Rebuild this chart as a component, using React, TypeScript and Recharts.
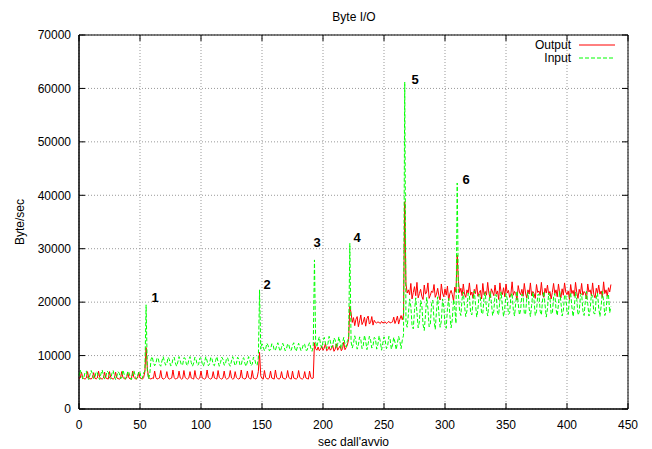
import { LineChart, Line, XAxis, YAxis, CartesianGrid, ReferenceArea } from 'recharts';

// one sample per second, starting at t = 0
const output = [
  5700, 5800, 6900, 5900, 5700, 5600, 5800, 7000, 5800, 5700,
  5600, 5900, 6800, 5800, 5600, 5800, 7100, 5900, 5700, 5600,
  5800, 6900, 5800, 5700, 5600, 7000, 5900, 5700, 5600, 5800,
  6900, 5800, 5700, 5600, 5700, 7000, 5900, 5700, 5600, 5800,
  6800, 5800, 5600, 5700, 7100, 5900, 5700, 5600, 5800, 6900,
  5800, 5700, 5600, 5900, 7000, 11500, 7600, 5900, 5700, 5600,
  5800, 5700, 7100, 5900, 5600, 5700, 5800, 7200, 5800, 5600,
  5700, 5900, 7000, 5800, 5600, 5700, 5800, 7300, 5900, 5600,
  5700, 5800, 7100, 5800, 5600, 5700, 7200, 5900, 5700, 5600,
  5800, 7000, 5800, 5700, 5600, 7200, 5900, 5700, 5600, 5800,
  7100, 5800, 5700, 5600, 5800, 7300, 5900, 5700, 5600, 5800,
  7000, 5800, 5700, 5600, 7200, 5900, 5700, 5600, 5800, 7100,
  5800, 5600, 5700, 5900, 7200, 5800, 5600, 5700, 7000, 5900,
  5700, 5600, 5800, 7300, 5800, 5700, 5600, 5800, 7100, 5900,
  5700, 5600, 7200, 5800, 5700, 5600, 5900, 7000, 10600, 6200,
  5700, 5600, 7200, 5900, 5700, 5600, 5800, 7100, 5800, 5700,
  5600, 7300, 5900, 5700, 5600, 5800, 7000, 5800, 5700, 5600,
  5800, 7200, 5900, 5700, 5600, 7100, 5800, 5700, 5600, 5800,
  7200, 5900, 5700, 5600, 5800, 7000, 5800, 5700, 5600, 7100,
  5900, 5700, 5800, 12400, 11300, 11000, 11600, 10900, 11200, 11800,
  11000, 11400, 12300, 10900, 11100, 11700, 11000, 11300, 11900, 10800,
  11200, 12200, 11000, 11400, 11800, 10900, 11300, 12500, 11100, 11500,
  12000, 13000, 19200, 18000, 16200, 17100, 15600, 16800, 17300, 15400,
  16500, 17600, 15800, 16300, 17200, 15500, 16900, 17400, 15900, 16200,
  17300, 15700, 16600, 16200, 16100, 16300, 16200, 16000, 16400, 16100,
  16200, 16300, 16000, 16200, 16400, 16100, 16200, 16300, 17200, 16000,
  16600, 17400, 15900, 16800, 17500, 16700, 17600, 38800, 23400, 21700,
  22300, 21400, 23500, 20600, 21800, 22900, 21200, 23700, 20800, 21600,
  22400, 21100, 20500, 23200, 21500, 21900, 23600, 20700, 21300, 22100,
  21800, 23300, 20900, 21500, 22600, 21200, 20400, 23400, 21700, 21000,
  22500, 21300, 23000, 20300, 21600, 22200, 21400, 20200, 22800, 21900,
  28800, 23900, 21800, 22600, 21200, 23400, 21500, 20900, 22300, 21700,
  23600, 21300, 21900, 20700, 22400, 21600, 23300, 21100, 21800, 22200,
  20600, 23500, 21400, 22000, 21300, 23700, 21600, 20800, 22500, 21900,
  21200, 23200, 21500, 22100, 20500, 23600, 21800, 21400, 22700, 21000,
  23400, 21700, 22200, 20900, 21500, 23800, 21300, 22000, 21600, 20400,
  23100, 21900, 21400, 22400, 21100, 23500, 21700, 20800, 22300, 21500,
  23600, 21200, 22000, 21600, 20700, 23300, 21800, 22100, 21300, 23700,
  21500, 20900, 22600, 21700, 23200, 21400, 22000, 20600, 21800, 23500,
  21600, 22300, 21000, 23400, 21700, 20800, 22500, 21300, 23600, 21900,
  21400, 22100, 20500, 23300, 21600, 22200, 21100, 23700, 21800, 20700,
  22400, 21500, 23500, 21300, 22000, 21700, 20600, 23400, 21900, 22300,
  21200, 23600, 21400, 20800, 22600, 21700, 23200, 21500, 22100, 20900,
  23800, 21600, 22300, 21100, 22700, 21900, 23300,
];

const input = [
  6200, 7300, 6500, 5600, 5900, 6900, 7100, 6000, 5500, 6400,
  7200, 6600, 5700, 5800, 7000, 6800, 5900, 5500, 6600, 7300,
  6300, 5600, 6000, 7100, 6900, 5800, 5600, 6700, 7200, 6200,
  5500, 6100, 7000, 6700, 5700, 5800, 7300, 6500, 5600, 6000,
  7100, 6800, 5800, 5500, 6600, 7200, 6300, 5600, 6100, 7000,
  6900, 5700, 5800, 6800, 7100, 19500, 7200, 5600, 6500, 9300,
  9800, 8700, 8100, 8500, 9600, 9400, 8300, 8000, 9000, 9800,
  8900, 8200, 8400, 9700, 9300, 8100, 8200, 9400, 9700, 8600,
  8000, 8800, 9800, 9000, 8200, 8300, 9600, 9500, 8400, 8100,
  9200, 9800, 8700, 8000, 8600, 9700, 9200, 8200, 8300, 9500,
  9600, 8500, 8000, 8900, 9800, 9000, 8100, 8400, 9700, 9400,
  8300, 8100, 9100, 9800, 8800, 8000, 8700, 9700, 9300, 8200,
  8300, 9600, 9500, 8400, 8000, 9000, 9800, 8900, 8100, 8500,
  9700, 9300, 8200, 8200, 9400, 9600, 8500, 8000, 8800, 9800,
  9100, 8100, 8400, 9700, 9400, 8300, 8200, 9500, 22300, 11200,
  12200, 11600, 10900, 11300, 12300, 11900, 10900, 11100, 12200, 12100,
  11000, 11000, 11800, 12400, 11400, 10800, 11500, 12300, 11700, 10900,
  11200, 12200, 12000, 11000, 11000, 11900, 12400, 11300, 10800, 11600,
  12300, 11600, 10900, 11300, 12200, 12100, 11000, 11000, 11900, 12400,
  11400, 10800, 11700, 27900, 12400, 11600, 12800, 13500, 12100, 11400,
  12600, 13400, 12300, 11300, 12200, 13600, 12700, 11500, 11900, 13300,
  12900, 11400, 12100, 13500, 12500, 11300, 12400, 13400, 12200, 11600,
  12800, 13200, 31000, 12600, 11400, 12300, 13700, 12800, 11200, 12000,
  13500, 13000, 11300, 11800, 13800, 12700, 11100, 12200, 13600, 12900,
  11400, 11900, 13400, 13200, 11200, 12100, 13700, 12600, 11000, 12300,
  13500, 12800, 11300, 11800, 13600, 13100, 11200, 12000, 13400, 12500,
  11100, 12400, 13600, 12700, 11300, 12900, 13800, 61200, 16200, 15300,
  17800, 20600, 19200, 15600, 15000, 18400, 20800, 18100, 15200, 16300,
  20300, 19500, 15800, 14700, 17600, 20900, 18800, 15400, 15900, 19700,
  20400, 16600, 14900, 18200, 21000, 17900, 15300, 16400, 20600, 19300,
  15700, 15100, 18800, 20700, 17500, 15200, 16800, 20500, 19000, 16000,
  42300, 21400, 18200, 17500, 20600, 21900, 19300, 17300, 18400, 21700,
  21200, 18000, 17600, 20200, 22100, 19600, 17200, 18700, 21500, 20800,
  17800, 17900, 20900, 21800, 18600, 17400, 19800, 22000, 20100, 17500,
  18300, 21300, 21400, 18100, 17600, 20500, 21900, 19200, 17300, 18900,
  21600, 20600, 17700, 18000, 21100, 21700, 18500, 17400, 19900, 22100,
  19800, 17600, 18500, 21500, 21200, 17900, 17700, 20700, 21800, 18800,
  17300, 19400, 21900, 20300, 17500, 18200, 21400, 21500, 18300, 17600,
  20400, 22000, 19500, 17200, 18800, 21700, 20900, 17800, 17900, 21000,
  21600, 18700, 17500, 19600, 22100, 20000, 17400, 18400, 21300, 21300,
  18100, 17700, 20600, 21800, 19100, 17300, 19100, 21900, 20500, 17600,
  18100, 21200, 21600, 18400, 17500, 20100, 22000, 19700, 17400, 18600,
  21500, 21100, 17900, 17800, 20800, 21700, 18900, 17300, 19300, 22000,
  20200, 17500, 18300, 21400, 21400, 18000, 19200,
];

const xTicks = [0, 50, 100, 150, 200, 250, 300, 350, 400, 450];
const yTicks = [0, 10000, 20000, 30000, 40000, 50000, 60000, 70000];

const data = output.map((v, i) => ({ t: i, output: v, input: input[i] }));

const FONT = '"Liberation Sans", Arial, sans-serif';
const W = 652;
const H = 449;
const PLOT = { left: 79, right: 628, top: 35, bottom: 409 };
const TICK_IN = 6;

function XTick(props: any) {
  const { x, y, payload } = props;
  return (
    <g>
      <line x1={x} x2={x} y1={PLOT.bottom} y2={PLOT.bottom - TICK_IN} stroke="#000" />
      <line x1={x} x2={x} y1={PLOT.top} y2={PLOT.top + TICK_IN} stroke="#000" />
      <text x={x} y={y} dy="0.71em" textAnchor="middle" fontSize={12} fontFamily={FONT} fill="#000">
        {payload.value}
      </text>
    </g>
  );
}

function YTick(props: any) {
  const { x, y, payload } = props;
  return (
    <g>
      <line x1={PLOT.left} x2={PLOT.left + TICK_IN} y1={y} y2={y} stroke="#000" />
      <line x1={PLOT.right - TICK_IN} x2={PLOT.right} y1={y} y2={y} stroke="#000" />
      <text x={x} y={y} dy="0.355em" textAnchor="end" fontSize={12} fontFamily={FONT} fill="#000">
        {payload.value}
      </text>
    </g>
  );
}

function YLabel(props: any) {
  const { viewBox } = props;
  const cx = viewBox.x + 20;
  const cy = viewBox.y + viewBox.height / 2;
  return (
    <text x={cx} y={cy} dy="0.355em" textAnchor="middle" transform={`rotate(-90, ${cx}, ${cy})`}
      fontSize={12} fontFamily={FONT} fill="#000">
      Byte/sec
    </text>
  );
}

export default function App() {
  return (
    <div style={{ position: 'absolute', left: 0, top: 0, width: W, height: H, background: '#fff' }}>
      <LineChart width={W} height={H} data={data} margin={{ top: PLOT.top, right: W - PLOT.right, bottom: 0, left: 0 }}>
        <CartesianGrid stroke="#999" strokeDasharray="1 2" />
        <XAxis
          dataKey="t"
          type="number"
          domain={[0, 450]}
          ticks={xTicks}
          interval={0}
          height={H - PLOT.bottom}
          tickLine={false}
          tickMargin={5}
          axisLine={{ stroke: '#000' }}
          tick={XTick}
          label={{ value: "sec dall'avvio", position: 'insideBottom', offset: 3, fontSize: 12, fontFamily: FONT, fill: '#000' }}
        />
        <YAxis
          type="number"
          domain={[0, 70000]}
          ticks={yTicks}
          interval={0}
          width={PLOT.left}
          tickLine={false}
          axisLine={{ stroke: '#000' }}
          tick={YTick}
          label={<YLabel />}
        />
        <ReferenceArea x1={0} x2={450} y1={0} y2={70000} fill="none" stroke="#000" strokeWidth={1} />
        <Line type="linear" dataKey="output" stroke="#ff0000" strokeWidth={1} dot={false} activeDot={false} isAnimationActive={false} />
        <Line type="linear" dataKey="input" stroke="#00ff00" strokeWidth={1} strokeDasharray="4 2" dot={false} activeDot={false} isAnimationActive={false} />
      </LineChart>
      <svg width={W} height={H} style={{ position: 'absolute', left: 0, top: 0, pointerEvents: 'none' }}>
        <text x={354} y={17} dy="0.355em" textAnchor="middle" fontSize={12} fontFamily={FONT} fill="#000">Byte I/O</text>
        <text x={571} y={45} dy="0.355em" textAnchor="end" fontSize={12} fontFamily={FONT} fill="#000">Output</text>
        <line x1={579} x2={615} y1={45} y2={45} stroke="#ff0000" />
        <text x={571} y={58} dy="0.355em" textAnchor="end" fontSize={12} fontFamily={FONT} fill="#000">Input</text>
        <line x1={579} x2={615} y1={58} y2={58} stroke="#00ff00" strokeDasharray="4 2" />
        <text x={155} y={297} dy="0.355em" textAnchor="middle" fontSize={13} fontWeight="bold" fontFamily={FONT} fill="#000">1</text>
        <text x={267} y={284} dy="0.355em" textAnchor="middle" fontSize={13} fontWeight="bold" fontFamily={FONT} fill="#000">2</text>
        <text x={317} y={242} dy="0.355em" textAnchor="middle" fontSize={13} fontWeight="bold" fontFamily={FONT} fill="#000">3</text>
        <text x={357} y={237} dy="0.355em" textAnchor="middle" fontSize={13} fontWeight="bold" fontFamily={FONT} fill="#000">4</text>
        <text x={415} y={79} dy="0.355em" textAnchor="middle" fontSize={13} fontWeight="bold" fontFamily={FONT} fill="#000">5</text>
        <text x={466} y={179} dy="0.355em" textAnchor="middle" fontSize={13} fontWeight="bold" fontFamily={FONT} fill="#000">6</text>
      </svg>
    </div>
  );
}
